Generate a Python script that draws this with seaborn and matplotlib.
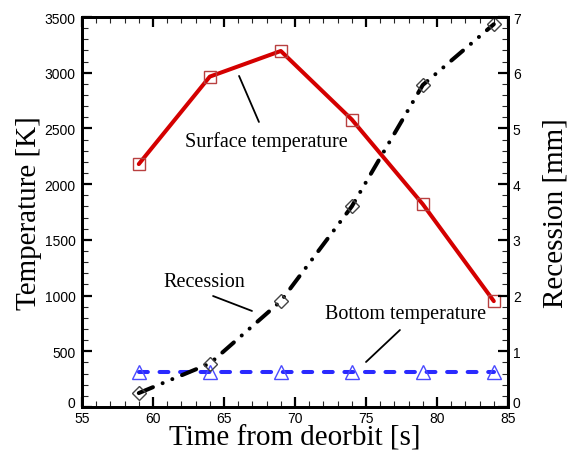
import matplotlib
matplotlib.use("Agg")
import matplotlib.pyplot as plt
import matplotlib.transforms as mtransforms
import seaborn as sns
import pandas as pd
import numpy as np
from matplotlib.ticker import MultipleLocator

time_s = [59, 64, 69, 74, 79, 84]
surface_temp = [2180, 2965, 3195, 2580, 1820, 950]
bottom_temp = [310, 310, 310, 310, 310, 310]
recession_mm = [0.25, 0.78, 1.9, 3.6, 5.78, 6.87]

sns.set_theme(style="white")
plt.rcParams["font.family"] = ["Liberation Sans", "DejaVu Sans"]

fig = plt.figure(figsize=(5.76, 4.52), dpi=100)
ax = fig.add_axes([82/576, 1-408/452, 426/576, 390/452])
ax2 = ax.twinx()

df = pd.DataFrame({"t": time_s, "surf": surface_temp, "bot": bottom_temp, "rec": recession_mm})

LW = 2.9
sns.lineplot(data=df, x="t", y="surf", ax=ax, color="#d40000", lw=LW,
             marker="s", markersize=8, markerfacecolor="none",
             markeredgecolor="#b84040", markeredgewidth=1.0)
sns.lineplot(data=df, x="t", y="bot", ax=ax, color="#2a2aff", lw=LW,
             marker="^", markersize=9.5, markerfacecolor="none",
             markeredgecolor="#4a4aff", markeredgewidth=1.0)
lb = ax.lines[-1]
lb.set_dash_capstyle("round")
lb.set_dashes((2.2, 2.9))
sns.lineplot(data=df, x="t", y="rec", ax=ax2, color="black", lw=LW,
             marker="D", markersize=7.5, markerfacecolor="none",
             markeredgecolor="#444444", markeredgewidth=1.0)
lr = ax2.lines[-1]
lr.set_dash_capstyle("round")
lr.set_dashes((3.8, 2.6, 0.01, 2.6, 0.01, 2.6))

ax.set_xlim(55, 85)
ax.set_ylim(0, 3500)
ax2.set_ylim(0, 7)
ax.xaxis.set_major_locator(MultipleLocator(5))
ax.xaxis.set_minor_locator(MultipleLocator(1))
ax.yaxis.set_major_locator(MultipleLocator(500))
ax.yaxis.set_minor_locator(MultipleLocator(100))
ax2.yaxis.set_major_locator(MultipleLocator(1))
ax2.yaxis.set_minor_locator(MultipleLocator(0.2))

for a in (ax, ax2):
    for s in a.spines.values():
        s.set_linewidth(2.0)
        s.set_color("black")
    a.tick_params(which="major", direction="in", length=7, width=1.6, labelsize=10, colors="black")
    a.tick_params(which="minor", direction="in", length=4, width=0.8)
ax.tick_params(which="both", top=True, right=False, left=True, bottom=True)
ax2.tick_params(which="both", right=True, left=False)
ax.tick_params(axis="x", pad=3)
ax.tick_params(axis="y", pad=4.5)

# lift the "0" labels slightly, as in the reference
shift = mtransforms.ScaledTranslation(0, 4.0 / 72, fig.dpi_scale_trans)
for axis, which in ((ax.yaxis, "label1"), (ax2.yaxis, "label2")):
    locs = axis.get_majorticklocs()
    ticks = axis.get_major_ticks(len(locs))
    for loc, tk in zip(locs, ticks):
        if np.isclose(loc, 0):
            lab = getattr(tk, which)
            lab.set_transform(lab.get_transform() + shift)

serif = ["Liberation Serif", "DejaVu Serif"]
ax.set_xlabel("Time from deorbit [s]", fontsize=21, family=serif, color="black")
ax.set_ylabel("Temperature [K]", fontsize=21, family=serif, color="black")
ax2.set_ylabel("Recession [mm]", fontsize=21, family=serif, color="black")
ax.xaxis.set_label_coords(0.5, -0.046)
ax.yaxis.set_label_coords(-0.094, 0.5)
ax2.yaxis.set_label_coords(1.082, 0.5)

tkw = dict(fontsize=14.5, family=serif, ha="center", va="center", color="black")
ax.text(68.0, 2388, "Surface temperature", **tkw)
ax.text(63.63, 1122, "Recession", **tkw)
ax.text(77.82, 835, "Bottom temperature", **tkw)

akw = dict(arrowprops=dict(arrowstyle="-", color="black", lw=1.3, shrinkA=0, shrinkB=0))
ax.annotate("", xy=(66.06, 2971), xytext=(67.46, 2558), **akw)
ax.annotate("", xy=(64.23, 996), xytext=(66.97, 862), **akw)
ax.annotate("", xy=(77.39, 691), xytext=(75.0, 404), **akw)

fig.savefig("out.png", dpi=100)
